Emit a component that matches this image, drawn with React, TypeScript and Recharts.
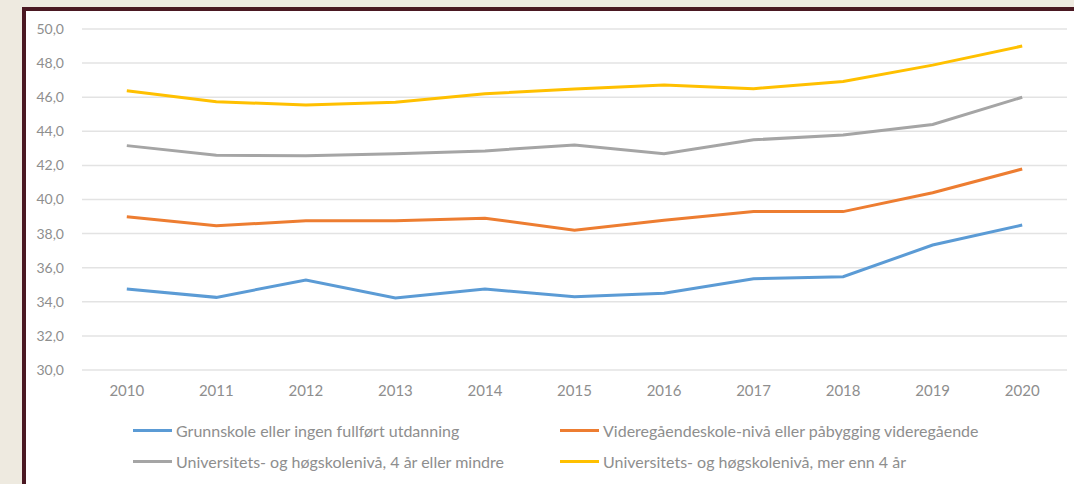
import { LineChart, Line, XAxis, YAxis, CartesianGrid, Legend } from "recharts";

const years = ["2010", "2011", "2012", "2013", "2014", "2015", "2016", "2017", "2018", "2019", "2020"];

const grunnskole = [34.75, 34.26, 35.28, 34.22, 34.75, 34.3, 34.5, 35.35, 35.47, 37.33, 38.5];
const videregaende = [38.99, 38.46, 38.75, 38.75, 38.9, 38.2, 38.78, 39.3, 39.29, 40.4, 41.79];
const uniKort = [43.16, 42.6, 42.57, 42.68, 42.85, 43.2, 42.68, 43.5, 43.78, 44.4, 46.0];
const uniLang = [46.38, 45.74, 45.54, 45.7, 46.2, 46.48, 46.72, 46.5, 46.92, 47.88, 49.0];

const yTicks = [30, 32, 34, 36, 38, 40, 42, 44, 46, 48, 50];

const seriesNames = [
  "Grunnskole eller ingen fullført utdanning",
  "Videregåendeskole-nivå eller påbygging videregående",
  "Universitets- og høgskolenivå, 4 år eller mindre",
  "Universitets- og høgskolenivå, mer enn 4 år",
];
const seriesKeys = ["grunnskole", "videregaende", "uniKort", "uniLang"];
const seriesColors = ["#5B9BD5", "#ED7D31", "#A5A5A5", "#FFC000"];

const data = years.map((year, i) => ({
  year,
  grunnskole: grunnskole[i],
  videregaende: videregaende[i],
  uniKort: uniKort[i],
  uniLang: uniLang[i],
}));

const FONT = "Lato, 'Liberation Sans', sans-serif";
const TEXT_GRAY = "#8e8e8e";

// two-column legend, blue/orange on top row, gray/yellow below
function GridLegend() {
  return (
    <div
      style={{
        display: "grid",
        gridTemplateColumns: "427px 460px",
        rowGap: 12,
        paddingLeft: 133,
        fontFamily: FONT,
        fontSize: 16,
        color: TEXT_GRAY,
      }}
    >
      {seriesNames.map((name, i) => (
        <div key={name} style={{ display: "flex", alignItems: "center", height: 19 }}>
          <span
            style={{
              display: "inline-block",
              width: 39,
              height: 3,
              background: seriesColors[i],
              marginRight: 4,
            }}
          />
          <span style={{ whiteSpace: "nowrap" }}>{name}</span>
        </div>
      ))}
    </div>
  );
}

export default function App() {
  return (
    <div
      style={{
        position: "fixed",
        left: 0,
        top: 0,
        width: 1074,
        height: 484,
        background: "#EEEAE0",
        overflow: "hidden",
      }}
    >
      {/* framed white card, right and bottom edges run off the picture */}
      <div
        style={{
          position: "absolute",
          left: 22,
          top: 7,
          width: 1100,
          height: 520,
          background: "#ffffff",
          borderLeft: "4px solid #4A1822",
          borderTop: "4px solid #4A1822",
        }}
      />
      <div style={{ position: "absolute", left: 0, top: 0 }}>
        <LineChart
          width={1074}
          height={484}
          data={data}
          margin={{ top: 29, right: 7, bottom: 34, left: 0 }}
        >
          <CartesianGrid vertical={false} stroke="#e3e3e3" strokeWidth={1.5} />
          <XAxis
            dataKey="year"
            type="category"
            padding={{ left: 44.8, right: 44.8 }}
            axisLine={false}
            tickLine={false}
            tickSize={0}
            tickMargin={15}
            interval={0}
            tick={{ fontSize: 15, fill: TEXT_GRAY, fontFamily: FONT }}
          />
          <YAxis
            type="number"
            domain={[30, 50]}
            ticks={yTicks}
            width={82}
            axisLine={false}
            tickLine={false}
            tickSize={0}
            tickMargin={18}
            interval={0}
            tickFormatter={(v: number) => v.toFixed(1).replace(".", ",")}
            tick={{ fontSize: 14, fill: TEXT_GRAY, fontFamily: FONT }}
          />
          <Legend
            content={<GridLegend />}
            wrapperStyle={{ position: "absolute", left: 0, top: 421, width: 1074 }}
          />
          {seriesKeys.map((key, i) => (
            <Line
              key={key}
              dataKey={key}
              name={seriesNames[i]}
              type="linear"
              stroke={seriesColors[i]}
              strokeWidth={3}
              dot={false}
              activeDot={false}
              isAnimationActive={false}
            />
          ))}
        </LineChart>
      </div>
    </div>
  );
}
